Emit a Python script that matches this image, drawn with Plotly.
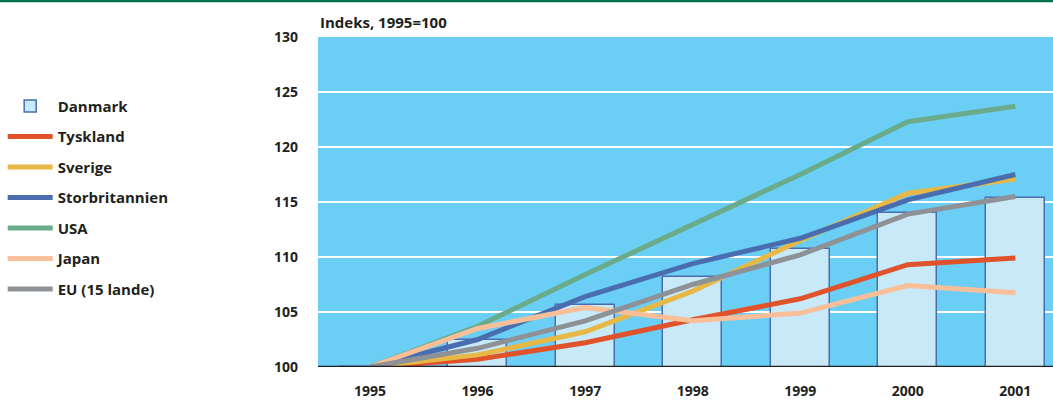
import plotly.graph_objects as go

years = [1995, 1996, 1997, 1998, 1999, 2000, 2001]
year_labels = ["1995", "1996", "1997", "1998", "1999", "2000", "2001"]

danmark = [100.0, 102.5, 105.6, 108.2, 110.7, 114.0, 115.4]
tyskland = [100.0, 100.7, 102.2, 104.3, 106.2, 109.3, 109.9]
sverige = [100.0, 101.1, 103.2, 106.9, 111.5, 115.8, 117.1]
storbritannien = [100.0, 102.5, 106.4, 109.4, 111.7, 115.2, 117.5]
usa = [100.0, 103.7, 108.4, 113.0, 117.5, 122.3, 123.7]
japan = [100.0, 103.5, 105.4, 104.2, 104.9, 107.4, 106.75]
eu15 = [100.0, 101.7, 104.2, 107.5, 110.2, 113.9, 115.5]

y_ticks = [100, 105, 110, 115, 120, 125, 130]

FONT = "Open Sans"
TXT = "#231f20"

fig = go.Figure()
fig.add_trace(go.Bar(
    x=years, y=danmark, name="Danmark", width=0.55, legendgroup="Danmark",
    marker=dict(color="#c8e9f8", line=dict(color="#4a6db0", width=1.5)),
))
series = [
    ("Tyskland", tyskland, "#e0532a"),
    ("Sverige", sverige, "#e8b847"),
    ("Storbritannien", storbritannien, "#4a6db0"),
    ("USA", usa, "#69ab8a"),
    ("Japan", japan, "#f9bf99"),
    ("EU (15 lande)", eu15, "#8e9195"),
]
for name, vals, col in series:
    fig.add_trace(go.Scatter(
        x=years, y=vals, name=name, mode="lines", legendgroup=name,
        line=dict(color=col, width=5),
    ))

fig.update_layout(
    width=1053, height=403,
    margin=dict(l=318, r=0, t=37, b=36),
    paper_bgcolor="white",
    plot_bgcolor="#6bcff5",
    showlegend=True,
    legend=dict(
        x=-0.429, xanchor="left", y=0.84, yanchor="top",
        font=dict(family=FONT, size=15, color=TXT, weight="bold"),
        tracegroupgap=8, bgcolor="rgba(0,0,0,0)",
        traceorder="grouped", itemwidth=45,
    ),
    bargap=0,
    font=dict(family=FONT, color=TXT),
)

fig.update_xaxes(
    range=[1994.516, 2001.35], tickvals=years, ticktext=year_labels,
    showgrid=False, zeroline=False, showline=False,
    tickfont=dict(family=FONT, size=14, color=TXT, weight="bold"),
    ticks="", ticklabelstandoff=14,
)
fig.update_yaxes(
    range=[100, 130], tickvals=y_ticks,
    showgrid=True, gridcolor="white", gridwidth=2,
    zeroline=False, showline=False,
    tickfont=dict(family=FONT, size=14, color=TXT, weight="bold"),
    ticks="", ticklabelstandoff=19,
)
# axis base line at 100
fig.add_shape(type="line", xref="paper", yref="y", x0=0, x1=1, y0=100, y1=100,
              line=dict(color="#231f20", width=2.5), layer="above")
# top green rule across the page
fig.add_shape(type="line", xref="paper", yref="paper", x0=-0.44, x1=1.0,
              y0=1.109, y1=1.109, line=dict(color="#00704a", width=2.5))
fig.add_annotation(
    text="Indeks, 1995=100", xref="paper", yref="paper", x=0, y=1.0,
    xanchor="left", yanchor="bottom", yshift=3, showarrow=False,
    font=dict(family=FONT, size=15, color=TXT, weight="bold"),
)

fig.write_html("out.html", config={"displayModeBar": False},
               post_script="document.body.style.margin='0';")
